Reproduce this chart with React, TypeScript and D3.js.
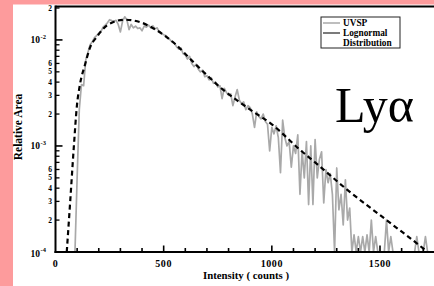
import React from 'react';
import * as d3 from 'd3';

// Lognormal fit (dashed)
const fitCounts = [52, 67, 85, 99, 113, 136, 159, 191, 242, 320, 400, 460, 552, 640, 774, 900, 1000, 1130, 1200, 1346, 1530, 1707, 1760];
const fitValues = [1e-4, 2.8e-4, 1e-3, 2.4e-3, 3.8e-3, 5.8e-3, 8.4e-3, 1.07e-2, 1.39e-2, 1.55e-2, 1.45e-2, 1.26e-2, 9.2e-3, 6.1e-3, 3.4e-3, 2.2e-3, 1.6e-3, 9.2e-4, 7.0e-4, 3.9e-4, 2.0e-4, 1.05e-4, 8.5e-5];

// UVSP measured distribution (grey), counts 90..1720 step 10
const uvspCounts = d3.range(90, 1730, 10);
const uvspValues = [
  0, 5.0e-4, 2.2e-3, 3.8e-3, 3.7e-3, 6.5e-3, 7.6e-3, 9.0e-3, 9.6e-3, 1.05e-2,
  1.1e-2, 1.15e-2, 1.2e-2, 1.32e-2, 1.38e-2, 1.45e-2, 1.55e-2, 1.52e-2, 1.5e-2, 1.53e-2,
  1.4e-2, 1.19e-2, 1.5e-2, 1.65e-2, 1.55e-2, 1.25e-2, 1.4e-2, 1.3e-2, 1.35e-2, 1.28e-2,
  1.3e-2, 1.22e-2, 1.35e-2, 1.32e-2, 1.38e-2, 1.3e-2, 1.36e-2, 1.27e-2, 1.3e-2, 1.18e-2,
  1.15e-2, 1.12e-2, 1.1e-2, 1.05e-2, 1.0e-2, 9.5e-3, 9.3e-3, 8.6e-3, 8.2e-3, 8.4e-3,
  7.4e-3, 7.2e-3, 6.6e-3, 7.0e-3, 6.0e-3, 5.6e-3, 5.9e-3, 5.3e-3, 5.0e-3, 5.2e-3,
  4.5e-3, 4.6e-3, 4.2e-3, 4.4e-3, 3.9e-3, 4.0e-3, 3.6e-3, 3.7e-3, 2.8e-3, 3.5e-3,
  3.2e-3, 3.0e-3, 3.1e-3, 2.4e-3, 2.9e-3, 3.4e-3, 2.7e-3, 2.5e-3, 2.6e-3, 2.2e-3,
  2.4e-3, 2.3e-3, 2.0e-3, 1.5e-3, 2.1e-3, 1.9e-3, 1.8e-3, 2.0e-3, 1.7e-3, 1.6e-3,
  9.0e-4, 1.5e-3, 1.3e-3, 1.55e-3, 1.2e-3, 5.6e-4, 1.75e-3, 1.2e-3, 1.0e-3, 1.1e-3,
  6.3e-4, 1.0e-3, 8.5e-4, 1.27e-3, 3.5e-4, 9.0e-4, 5.0e-4, 1.1e-3, 2.8e-4, 1.0e-3,
  2.8e-4, 1.15e-3, 5.0e-4, 7.5e-4, 8.8e-4, 2.9e-4, 6.0e-4, 4.5e-4, 5.5e-4, 3.5e-4,
  0, 6.2e-4, 2.5e-4, 3.5e-4, 1.8e-4, 4.8e-4, 2.0e-4, 2.6e-4, 0, 1.45e-4,
  0, 1.4e-4, 0, 1.4e-4, 0, 1.45e-4, 0, 2.0e-4, 0, 1.4e-4,
  0, 0, 0, 0, 2.0e-4, 0, 1.4e-4, 0, 0, 0,
  0, 0, 0, 0, 0, 0, 0, 0, 1.4e-4, 0,
  0, 0, 1.4e-4, 0,
];

const xTickLabels = [0, 500, 1000, 1500];
const yDecades = [1e-4, 1e-3, 1e-2];
const yDecadeExp = ['-4', '-3', '-2'];
const yMinorLabels = [2, 3, 4, 5, 6];
const legendLabels = ['UVSP', 'Lognormal', 'Distribution'];

const W = 434, H = 286;
const L = 55.5, B = 252, T = 6.5, R = 434;

export default function App() {
  const x = d3.scaleLinear().domain([0, 1500]).range([L, 380]);
  const y = d3.scaleLog().domain([1e-4, 2e-2]).range([B, 8]);
  const yc = (v: number) => y(Math.max(v, 1e-4));

  const fitLine = d3.line<number>()
    .x((_, i) => x(fitCounts[i]))
    .y((_, i) => y(fitValues[i]))
    .curve(d3.curveMonotoneX)(fitValues as any) as string;

  const uvspLine = d3.line<number>()
    .x((_, i) => x(uvspCounts[i]))
    .y((_, i) => yc(uvspValues[i]))(uvspValues as any) as string;

  const xMinor = d3.range(100, 1800, 100);
  const yMinor: number[] = [];
  yDecades.forEach(d => { for (let m = 2; m <= 9; m++) if (d * m <= 2e-2 + 1e-9) yMinor.push(d * m); });
  const yMinorLab: { v: number; m: number }[] = [];
  yDecades.forEach(d => yMinorLabels.forEach(m => { if (d * m <= 2e-2 + 1e-9) yMinorLab.push({ v: d * m, m }); }));

  const font = '"Liberation Serif", "Times New Roman", serif';

  return (
    <svg width={W} height={H} style={{ position: 'absolute', left: 0, top: 0, display: 'block' }} fontFamily={font}>
      <defs>
        <clipPath id="plot"><rect x={L} y={T} width={R - L} height={B - T} /></clipPath>
      </defs>
      <rect x={0} y={0} width={W} height={H} fill="#fd9b9c" />
      <rect x={13} y={4.5} width={W - 13} height={H - 4.5} fill="#ffffff" />

      <g clipPath="url(#plot)">
        <path d={uvspLine} fill="none" stroke="#a9a9a9" strokeWidth={1.7} strokeLinejoin="round" />
        <path d={fitLine} fill="none" stroke="#000" strokeWidth={2.2} strokeDasharray="5,3.5" />
      </g>

      {/* frame */}
      <line x1={L} x2={R} y1={T} y2={T} stroke="#000" strokeWidth={2} />
      <line x1={L} x2={L} y1={T - 1} y2={B + 1} stroke="#000" strokeWidth={2} />
      <line x1={L - 1} x2={R} y1={B} y2={B} stroke="#000" strokeWidth={2} />

      {/* x ticks */}
      {xMinor.map(c => (
        <line key={'xt' + c} x1={x(c)} x2={x(c)} y1={B} y2={B - (c % 500 === 0 ? 6.5 : 4)} stroke="#000" strokeWidth={1.6} />
      ))}
      {xTickLabels.map(c => (
        <text key={'xl' + c} x={x(c)} y={267} textAnchor="middle" fontSize={10} fontWeight="bold" letterSpacing={0.6}>{c}</text>
      ))}

      {/* y ticks */}
      {yDecades.map(v => (
        <line key={'yM' + v} x1={L} x2={L + 7} y1={y(v)} y2={y(v)} stroke="#000" strokeWidth={1.6} />
      ))}
      {yMinor.map(v => (
        <line key={'ym' + v} x1={L} x2={L + 4} y1={y(v)} y2={y(v)} stroke="#000" strokeWidth={1.3} />
      ))}
      {yDecades.map((v, i) => (
        <text key={'yl' + v} x={40} y={y(v) + (i === 0 ? 4.5 : 3.5)} textAnchor="end" fontSize={9.5} fontWeight="bold">
          10
          <tspan x={40.5} dy={-4.5} fontSize={6.5} textAnchor="start">{yDecadeExp[i]}</tspan>
        </text>
      ))}
      {yMinorLab.map(d => (
        <text key={'yml' + d.v} x={52} y={y(d.v) + 2.5} textAnchor="end" fontSize={7.5} fontWeight="bold">{d.m}</text>
      ))}

      {/* axis titles */}
      <text x={246} y={279} textAnchor="middle" fontSize={10.8} fontWeight="bold">Intensity ( counts )</text>
      <text transform="translate(22,127) rotate(-90)" textAnchor="middle" fontSize={11.5} fontWeight="bold">Relative Area</text>

      {/* legend */}
      <rect x={321} y={17} width={79} height={31} fill="#fff" stroke="#222" strokeWidth={1} />
      <line x1={323} x2={340} y1={23} y2={23} stroke="#a9a9a9" strokeWidth={1.5} />
      <line x1={323} x2={340} y1={33} y2={33} stroke="#333" strokeWidth={1.3} />
      {legendLabels.map((t, i) => (
        <text key={t} x={343} y={26 + i * 10} fontSize={9.3} fontWeight="bold">{t}</text>
      ))}

      <text x={335} y={122} fontSize={50} fontFamily={font}>Lyα</text>
    </svg>
  );
}
